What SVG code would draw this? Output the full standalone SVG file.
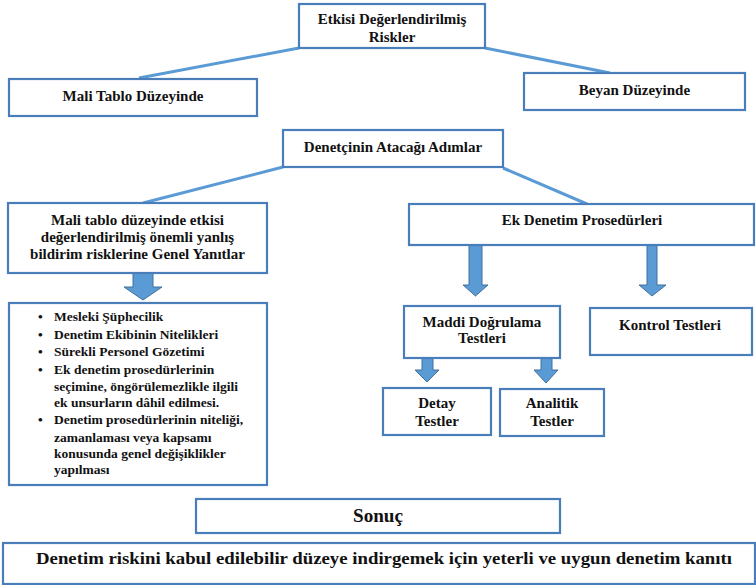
<svg xmlns="http://www.w3.org/2000/svg" width="756" height="585" viewBox="0 0 756 585" font-family="'Liberation Serif', 'Times New Roman', 'DejaVu Serif', serif">
<style>
.box{fill:#fff;stroke:#4A7EBB;stroke-width:2.2}
.t{font-weight:bold;font-size:15px;fill:#111;text-anchor:middle}
.l{font-weight:bold;font-size:13.5px;fill:#111}
.c{stroke:#5B9BD5;stroke-width:3;fill:none}
.ar{fill:#5B9BD5;stroke:#41719C;stroke-width:1}
</style>
<rect width="756" height="585" fill="#fff"/>
<g id="connectors">
<line class="c" x1="299" y1="48" x2="139" y2="78"/>
<line class="c" x1="485" y1="48" x2="610" y2="73"/>
<line class="c" x1="283" y1="167" x2="143" y2="203"/>
<line class="c" x1="503" y1="168" x2="587" y2="204"/>
<polygon class="ar" points="133,273 153,273 153,287 162,287 143,300 124,287 133,287"/>
<polygon class="ar" points="469,245 482,245 482,285 488,285 475.5,296 463,285 469,285"/>
<polygon class="ar" points="647,245 657,245 657,285 666,285 652,296 639,285 647,285"/>
<polygon class="ar" points="422,358 433,358 433,370 439,370 427,382 415,370 422,370"/>
<polygon class="ar" points="541,358 552,358 552,370 558,370 546,383 534,370 541,370"/>
</g>
<g id="n-riskler">
<rect class="box" x="299" y="4" width="186" height="44"/>
<text class="t" x="392" y="24">Etkisi Değerlendirilmiş</text>
<text class="t" x="392" y="42">Riskler</text>
</g>
<g id="n-mali">
<rect class="box" x="9" y="79" width="248" height="37"/>
<text class="t" x="133" y="101">Mali Tablo Düzeyinde</text>
</g>
<g id="n-beyan">
<rect class="box" x="524" y="73" width="221" height="37"/>
<text class="t" x="634.5" y="95">Beyan Düzeyinde</text>
</g>
<g id="n-adimlar">
<rect class="box" x="283" y="130" width="220" height="37"/>
<text class="t" x="393" y="152">Denetçinin Atacağı Adımlar</text>
</g>
<g id="n-genel">
<rect class="box" x="8" y="203" width="259" height="70"/>
<text class="t" x="137.5" y="225">Mali tablo düzeyinde etkisi</text>
<text class="t" x="137.5" y="242">değerlendirilmiş önemli yanlış</text>
<text class="t" x="137.5" y="259">bildirim risklerine Genel Yanıtlar</text>
</g>
<g id="n-liste">
<rect class="box" x="9" y="303" width="258" height="182"/>
<g class="l">
<text x="38" y="321">•</text><text x="54" y="321">Mesleki Şüphecilik</text>
<text x="38" y="339">•</text><text x="54" y="339">Denetim Ekibinin Nitelikleri</text>
<text x="38" y="356">•</text><text x="54" y="356">Sürekli Personel Gözetimi</text>
<text x="38" y="374">•</text><text x="54" y="374">Ek denetim prosedürlerinin</text>
<text x="54" y="391">seçimine, öngörülemezlikle ilgili</text>
<text x="54" y="407">ek unsurların dâhil edilmesi.</text>
<text x="38" y="424">•</text><text x="54" y="424">Denetim prosedürlerinin niteliği,</text>
<text x="54" y="442">zamanlaması veya kapsamı</text>
<text x="54" y="458">konusunda genel değişiklikler</text>
<text x="54" y="474">yapılması</text>
</g>
</g>
<g id="n-ek">
<rect class="box" x="409" y="204" width="345" height="41"/>
<text class="t" x="582" y="225">Ek Denetim Prosedürleri</text>
</g>
<g id="n-maddi">
<rect class="box" x="404" y="306" width="156" height="52"/>
<text class="t" x="482" y="327">Maddi Doğrulama</text>
<text class="t" x="482" y="343">Testleri</text>
</g>
<g id="n-kontrol">
<rect class="box" x="590" y="308" width="162" height="47"/>
<text class="t" x="670" y="330">Kontrol Testleri</text>
</g>
<g id="n-detay">
<rect class="box" x="383" y="388" width="108" height="47"/>
<text class="t" x="437" y="408">Detay</text>
<text class="t" x="437" y="426">Testler</text>
</g>
<g id="n-analitik">
<rect class="box" x="500" y="389" width="104" height="47"/>
<text class="t" x="552" y="408">Analitik</text>
<text class="t" x="552" y="426">Testler</text>
</g>
<g id="n-sonuc">
<rect class="box" x="196" y="499" width="364" height="34"/>
<text class="t" x="378" y="522" style="font-size:18px" textLength="50" lengthAdjust="spacingAndGlyphs">Sonuç</text>
</g>
<g id="n-kanit">
<rect class="box" x="3" y="543" width="752" height="41"/>
<text class="t" x="384" y="564" style="font-size:17px" textLength="696" lengthAdjust="spacingAndGlyphs">Denetim riskini kabul edilebilir düzeye indirgemek için yeterli ve uygun denetim kanıtı</text>
</g>
</svg>
